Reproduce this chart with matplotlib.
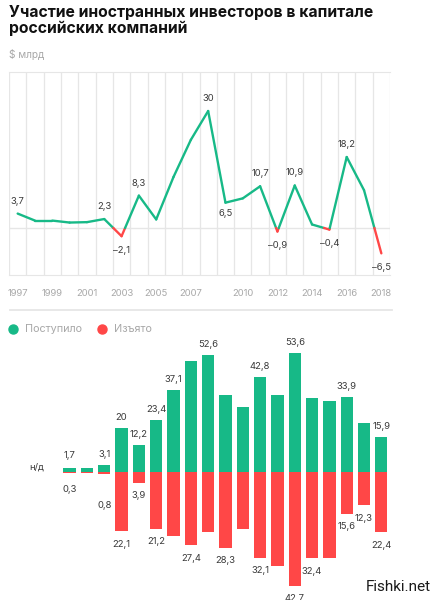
import matplotlib
matplotlib.use("Agg")
import matplotlib.pyplot as plt
from matplotlib.lines import Line2D

plt.rcParams["font.family"] = ["Inter", "DejaVu Sans"]

GREEN = "#17b987"
RED = "#ff4747"
GRID = "#e6e6e6"
TXT = "#3a3a3a"
GREY = "#a8a8a8"

# --- чистый приток, $ млрд (верхний график)
years = list(range(1997, 2019))
net = [3.7, 1.9, 1.9, 1.4, 1.5, 2.3, -2.1, 8.3, 2.2, 13.1, 22.6, 30,
       6.5, 7.6, 10.7, -0.9, 10.9, 0.9, -0.4, 18.2, 9.7, -6.5]
net_labeled = [1997, 2002, 2003, 2004, 2008, 2009, 2011, 2012, 2013, 2015, 2016, 2018]
year_ticks = [1997, 1999, 2001, 2003, 2005, 2007, 2010, 2012, 2014, 2016, 2018]

# --- поступило / изъято (нижний график)
bar_years = list(range(2000, 2019))
inflow = [1.7, 1.9, 3.1, 20, 12.2, 23.4, 37.1, 50.0, 52.6, 34.8,
          29.1, 42.8, 34.5, 53.6, 33.3, 32.0, 33.9, 22.0, 15.9]
outflow = [0.3, 0.4, 0.8, 22.1, 3.9, 21.2, 24.0, 27.4, 22.6, 28.3,
           21.5, 32.1, 35.4, 42.7, 32.4, 32.4, 15.6, 12.3, 22.4]
inflow_labeled = [2000, 2002, 2003, 2004, 2005, 2006, 2008, 2011, 2013, 2016, 2018]
outflow_labeled = [2000, 2002, 2003, 2004, 2005, 2007, 2009, 2011, 2013, 2014, 2016, 2017, 2018]

W, H = 436, 600


def fx(px):
    return px / W


def fy(py):
    return 1 - py / H


def fmt(v):
    s = f"{abs(v):g}".replace(".", ",")
    return ("–" + s) if v < 0 else s


fig = plt.figure(figsize=(W / 100, H / 100), dpi=100)

fig.text(fx(9), fy(5), "Участие иностранных инвесторов в капитале\nроссийских компаний",
         ha="left", va="top", fontsize=11.3, fontweight="bold", color="#111111",
         linespacing=1.08)
fig.text(fx(9), fy(54), "$ млрд", ha="left", va="center", fontsize=7.3, color=GREY)

# ---------------- верхний график
ax = fig.add_axes([fx(9), fy(275), fx(390) - fx(9), fy(72) - fy(275)])
x = [y - years[0] for y in years]
ax.set_xlim(-0.5, len(years) - 0.5)
ax.set_ylim(-12.05, 40)
for k in range(len(years) + 1):
    ax.axvline(k - 0.5, color=GRID, lw=0.9, zorder=0)
ax.axhline(0, color=GRID, lw=1.0, zorder=0)
for sp in ax.spines.values():
    sp.set_color(GRID)
ax.spines["left"].set_visible(False)
ax.spines["right"].set_visible(False)

for i in range(len(net) - 1):
    x0, x1, v0, v1 = x[i], x[i + 1], net[i], net[i + 1]
    if v0 * v1 < 0:
        xc = x0 + (x1 - x0) * v0 / (v0 - v1)
        ax.plot([x0, xc], [v0, 0], color=GREEN if v0 > 0 else RED, lw=1.7,
                solid_capstyle="round")
        ax.plot([xc, x1], [0, v1], color=GREEN if v1 > 0 else RED, lw=1.7,
                solid_capstyle="round")
    else:
        ax.plot([x0, x1], [v0, v1], color=GREEN if (v0 + v1) >= 0 else RED, lw=1.7,
                solid_capstyle="round")

for yr in net_labeled:
    v = net[years.index(yr)]
    off = 9 if v > 0 else -10
    if yr == 2009:
        off = -8
    ax.annotate(fmt(v), (yr - years[0], v), xytext=(0, off), textcoords="offset points",
                ha="center", va="center", fontsize=6.8, color=TXT)

ax.set_yticks([])
ax.set_xticks([yr - years[0] for yr in year_ticks])
ax.set_xticklabels([str(yr) for yr in year_ticks])
ax.tick_params(axis="x", length=0, pad=10, labelsize=6.8, labelcolor=GREY)

fig.add_artist(Line2D([fx(10), fx(392)], [fy(310), fy(310)], transform=fig.transFigure,
                      color=GRID, lw=1.3))

# легенда
for cx, col, lab in [(13, GREEN, "Поступило"), (102, RED, "Изъято")]:
    fig.add_artist(Line2D([fx(cx)], [fy(329)], transform=fig.transFigure, marker="o",
                          markersize=6.5, color=col, lw=0))
    fig.text(fx(cx + 12), fy(329), lab, ha="left", va="center", fontsize=7.8, color=GREY)

# ---------------- нижний график
bx = fig.add_axes([fx(9), fy(598), fx(390) - fx(9), fy(340) - fy(598)])
bx2 = bx.twinx()
xb = [y - years[0] for y in bar_years]
bx.bar(xb, inflow, width=0.71, color=GREEN)
bx2.bar(xb, [-v for v in outflow], width=0.71, color=RED)
bx.set_xlim(-0.5, len(years) - 0.5)
bx.set_ylim(-56.4, 59.3)
bx2.set_ylim(-47.3, 49.8)
for a in (bx, bx2):
    a.axis("off")

for yr in inflow_labeled:
    v = inflow[bar_years.index(yr)]
    off = 9 if yr == 2000 else 7.5
    bx.annotate(fmt(v), (yr - years[0], v), xytext=(0, off), textcoords="offset points",
                ha="center", va="center", fontsize=6.8, color=TXT)
for yr in outflow_labeled:
    v = outflow[bar_years.index(yr)]
    off = {2000: 12, 2002: 22}.get(yr, 9.5)
    bx2.annotate(fmt(v), (yr - years[0], -v), xytext=(0, -off), textcoords="offset points",
                 ha="center", va="center", fontsize=6.8, color=TXT)

bx.text(1.1, 2.5, "н/д", ha="center", va="center", fontsize=6.8, color=TXT)

fig.text(fx(431), fy(587), "Fishki.net", ha="right", va="center", fontsize=11,
         color="#1a1a1a", family=["Liberation Sans Narrow", "Roboto", "DejaVu Sans"])

fig.savefig("out.png", dpi=100, facecolor="white")
